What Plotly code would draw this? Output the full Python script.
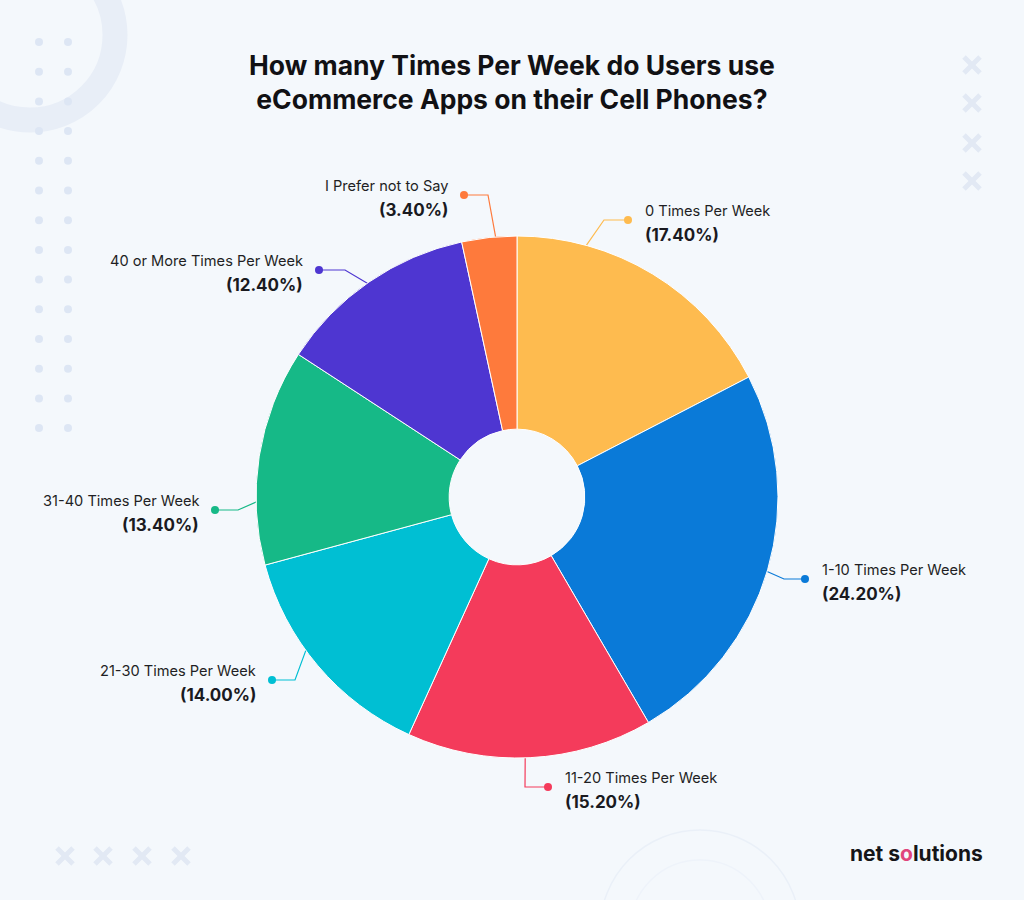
import math
import plotly.graph_objects as go

# ---------------- data ----------------
categories = [
    "0 Times Per Week",
    "1-10 Times Per Week",
    "11-20 Times Per Week",
    "21-30 Times Per Week",
    "31-40 Times Per Week",
    "40 or More Times Per Week",
    "I Prefer not to Say",
]
shares = [17.4, 24.2, 15.2, 14.0, 13.4, 12.4, 3.4]
slice_colors = ["#FEBB4F", "#0A7AD8", "#F43B5B", "#00BFD3", "#16B987", "#4E36D1", "#FE7A3C"]

title_text = "How many Times Per Week do Users use<br>eCommerce Apps on their Cell Phones?"

# ---------------- layout (pixel geometry) ----------------
W, H = 1024, 900
BG = "#F4F8FC"
CX, CY, R = 517, 497, 261

# per label: start angle on rim (deg clockwise from top), elbow px, dot px, side
label_layout = [
    (15.4, (604, 220), (628, 220), "right"),
    (106.6, (784, 579), (805, 579), "right"),
    (178.2, (525, 787), (548, 787), "right"),
    (234.0, (295, 680), (272, 680), "left"),
    (268.9, (238, 510), (215, 510), "left"),
    (325.0, (345, 270), (319, 270), "left"),
    (355.3, (488, 195), (464, 195), "left"),
]

fig = go.Figure()

# donut
fig.add_trace(go.Pie(
    values=shares,
    labels=categories,
    sort=False,
    direction="clockwise",
    rotation=0,
    hole=0.26,
    textinfo="none",
    hoverinfo="label+percent",
    marker=dict(colors=slice_colors, line=dict(color="#FFFFFF", width=1)),
    domain=dict(x=[(CX - R) / W, (CX + R) / W], y=[(H - CY - R) / H, (H - CY + R) / H]),
    showlegend=False,
))

# decorative dot grid (top-left)
dot_x, dot_y = [], []
for row in range(14):
    for col in range(2):
        dot_x.append(39 + col * 29)
        dot_y.append(42 + row * 29.7)
fig.add_trace(go.Scatter(x=dot_x, y=dot_y, mode="markers",
                         marker=dict(size=8, color="#DDE6F4"),
                         hoverinfo="skip", showlegend=False))

annotations = []
shapes = []

# decorative ring top-left
shapes.append(dict(type="circle", xref="x", yref="y", x0=30 - 85, x1=30 + 85, y0=35 - 85, y1=35 + 85,
                   line=dict(color="#E8EEF7", width=25), layer="below"))
# faint arcs bottom
shapes.append(dict(type="circle", xref="x", yref="y", x0=600, x1=800, y0=830, y1=1030,
                   line=dict(color="#EAF0F8", width=1.5), layer="below"))
shapes.append(dict(type="circle", xref="x", yref="y", x0=630, x1=770, y0=860, y1=1000,
                   line=dict(color="#EEF3FA", width=1.5), layer="below"))

# decorative X marks
def add_x(cx, cy, s=8):
    for dx in (-s, s):
        shapes.append(dict(type="line", xref="x", yref="y", x0=cx - dx, y0=cy - s, x1=cx + dx, y1=cy + s,
                           line=dict(color="#E2E9F4", width=5), layer="below"))

for yy in (65, 103, 143, 181):
    add_x(972, yy)
for xx in (65, 103, 142, 181):
    add_x(xx, 856)

# leader lines, dots and labels
for cat, val, col, (ang, elbow, dot, side) in zip(categories, shares, slice_colors, label_layout):
    a = math.radians(ang)
    sx = CX + R * math.sin(a)
    sy = CY - R * math.cos(a)
    fig.add_trace(go.Scatter(x=[sx, elbow[0], dot[0]], y=[sy, elbow[1], dot[1]], mode="lines",
                             line=dict(color=col, width=1.2), hoverinfo="skip", showlegend=False))
    fig.add_trace(go.Scatter(x=[dot[0]], y=[dot[1]], mode="markers",
                             marker=dict(size=8, color=col), hoverinfo="skip", showlegend=False))
    if side == "right":
        tx, xanchor = dot[0] + 15, "left"
    else:
        tx, xanchor = dot[0] - 14, "right"
    annotations.append(dict(x=tx, y=dot[1] - 9, xref="x", yref="y", text=cat, showarrow=False,
                            xanchor=xanchor, yanchor="middle",
                            font=dict(family="Inter", size=14.6, color="#1F1F24")))
    annotations.append(dict(x=tx, y=dot[1] + 15, xref="x", yref="y", text=f"<b>({val:.2f}%)</b>",
                            showarrow=False, xanchor=xanchor, yanchor="middle",
                            font=dict(family="Inter", size=17, color="#1A1A1F")))

# title
annotations.append(dict(x=512, y=82, xref="x", yref="y", text=f"<b>{title_text}</b>", showarrow=False,
                        xanchor="center", yanchor="middle", align="center",
                        font=dict(family="Inter", size=26.5, color="#111114")))
# logo text
annotations.append(dict(x=985, y=853, xref="x", yref="y",
                        text="<b>net s<span style='color:#E0457B'>o</span>lutions</b>",
                        showarrow=False, xanchor="right", yanchor="middle",
                        font=dict(family="Inter", size=21, color="#151518")))

fig.update_layout(
    width=W, height=H,
    margin=dict(l=0, r=0, t=0, b=0),
    paper_bgcolor=BG, plot_bgcolor=BG,
    xaxis=dict(range=[0, W], visible=False, fixedrange=True, domain=[0, 1]),
    yaxis=dict(range=[H, 0], visible=False, fixedrange=True, domain=[0, 1]),
    annotations=annotations,
    shapes=shapes,
    showlegend=False,
)

fig.write_html(
    "out.html",
    config={"displayModeBar": False},
    post_script="document.body.style.margin='0';document.body.style.background='%s';" % BG,
)
